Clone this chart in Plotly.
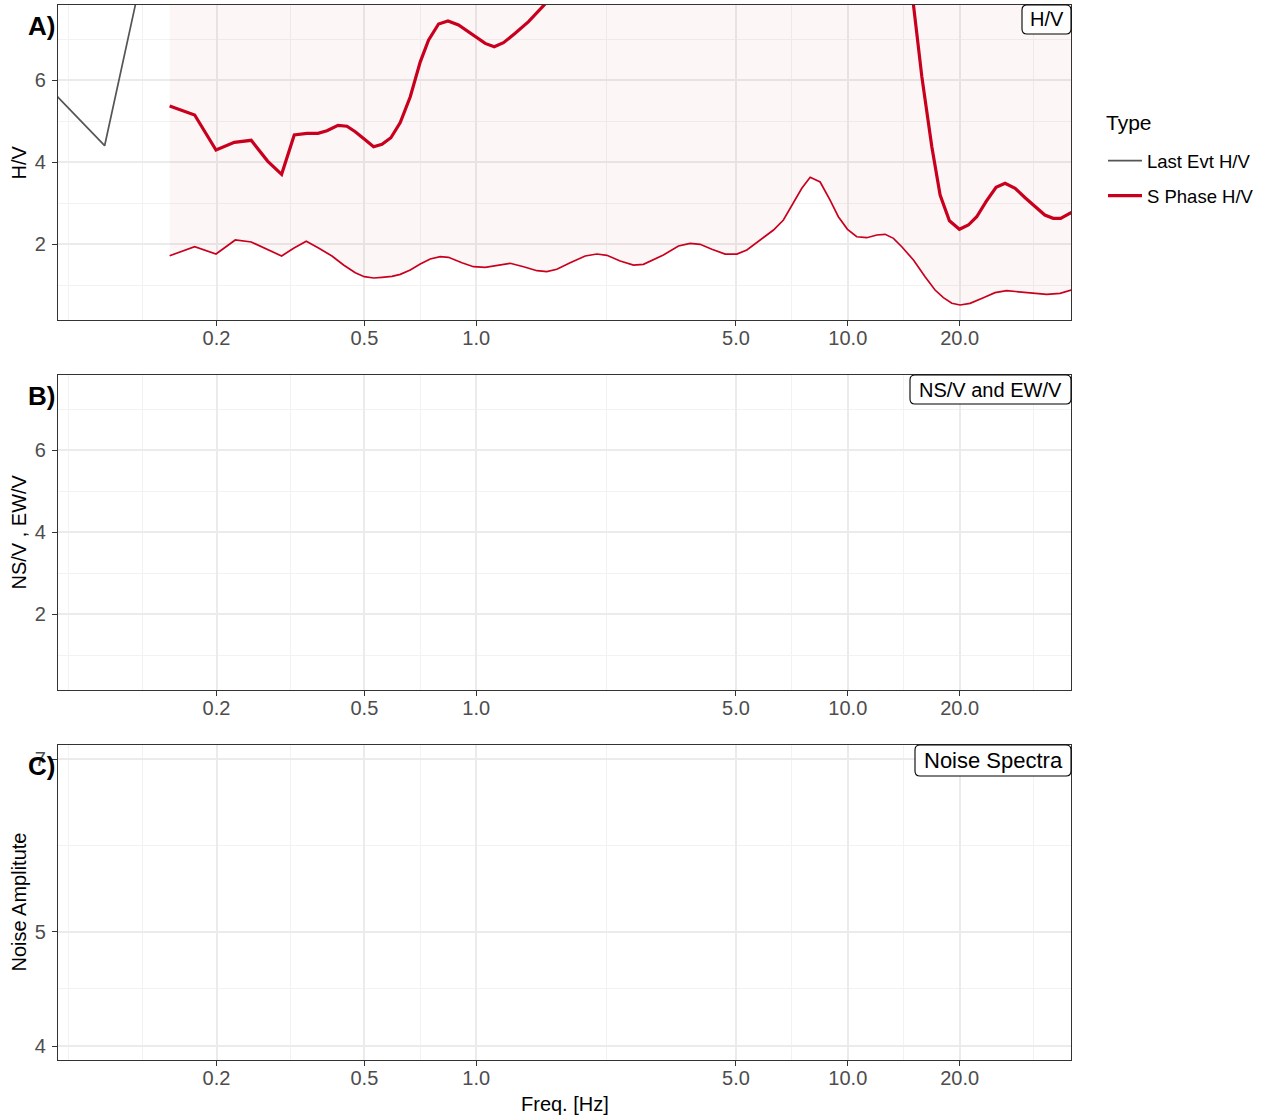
import math
import plotly.graph_objects as go

# ---------------- data ----------------
last_freq = [0.06, 0.1, 0.13]
last_hv = [6.49, 4.405, 9.14]

s_freq = [0.1496, 0.1747, 0.1994, 0.2234, 0.248, 0.2745, 0.2994, 0.3238, 0.3503, 0.375,
          0.3966, 0.4246, 0.4488, 0.4726, 0.4995, 0.5295, 0.5576, 0.5893, 0.6245, 0.6645,
          0.707, 0.744, 0.7918, 0.8394, 0.8961, 0.9636, 1.057, 1.118, 1.184, 1.273,
          1.383, 1.524, 1.7, 2.0, 3.0, 5.0, 8.0, 11.0, 13.0, 14.6,
          15.02, 15.82, 16.83, 17.72, 18.77, 19.97, 21.11, 22.23, 23.55, 25.06,
          26.5, 28.2, 30.0, 31.9, 33.9, 35.7, 37.4, 40.0]
s_hv = [5.373, 5.154, 4.30, 4.488, 4.537, 4.03, 3.707, 4.666, 4.707, 4.707,
        4.77, 4.90, 4.88, 4.746, 4.568, 4.38, 4.44, 4.60, 4.97, 5.60,
        6.45, 6.98, 7.373, 7.446, 7.349, 7.146, 6.90, 6.82, 6.917, 7.146,
        7.43, 7.84, 8.3, 9.0, 10.5, 12.0, 13.0, 12.0, 10.8, 8.8,
        7.84, 6.09, 4.38, 3.20, 2.576, 2.366, 2.47, 2.673, 3.04, 3.39,
        3.488, 3.366, 3.137, 2.917, 2.715, 2.634, 2.634, 2.78]

band_freq = [0.1496, 0.1747, 0.1994, 0.2247, 0.248, 0.2735, 0.2994, 0.3225, 0.3488, 0.3763,
             0.409, 0.4395, 0.4726, 0.4995, 0.5295, 0.5576, 0.5932, 0.6245, 0.6645, 0.707,
             0.752, 0.80, 0.842, 0.915, 0.983, 1.057, 1.137, 1.234, 1.341, 1.457,
             1.549, 1.648, 1.79, 1.965, 2.112, 2.247, 2.44, 2.65, 2.818, 2.999,
             3.19, 3.502, 3.765, 4.005, 4.306, 4.677, 5.028, 5.35, 5.81, 6.31,
             6.71, 7.07, 7.52, 7.92, 8.425, 8.96, 9.43, 9.98, 10.57, 11.25,
             11.97, 12.6, 13.27, 13.97, 15.02, 16.14, 17.17, 18.08, 19.05, 20.05,
             21.33, 23.17, 24.9, 26.77, 29.08, 31.57, 34.3, 37.25, 40.0]
band_lower = [1.722, 1.94, 1.763, 2.105, 2.056, 1.878, 1.715, 1.902, 2.073, 1.91,
              1.715, 1.495, 1.307, 1.21, 1.178, 1.195, 1.22, 1.268, 1.373, 1.52,
              1.641, 1.698, 1.683, 1.551, 1.454, 1.439, 1.488, 1.537, 1.454, 1.356,
              1.332, 1.39, 1.551, 1.715, 1.763, 1.732, 1.593, 1.495, 1.512, 1.617,
              1.739, 1.959, 2.024, 2.0, 1.878, 1.763, 1.763, 1.861, 2.105, 2.349,
              2.593, 2.959, 3.366, 3.634, 3.52, 3.08, 2.673, 2.366, 2.185, 2.161,
              2.227, 2.244, 2.146, 1.94, 1.617, 1.21, 0.885, 0.698, 0.561, 0.52,
              0.561, 0.698, 0.82, 0.868, 0.844, 0.805, 0.78, 0.805, 0.885]

upper_freq = [0.1496, 0.3, 0.6, 1.0, 2.0, 5.0, 10.0, 15.0, 20.0, 30.0, 40.0]
band_upper = [9.4, 9.0, 9.8, 13.5, 16.0, 18.5, 17.0, 14.0, 9.2, 8.6, 8.7]

x_ticks = [0.2, 0.5, 1, 5, 10, 20]
x_ticktext = ["0.2", "0.5", "1.0", "5.0", "10.0", "20.0"]
x_minor = [0.08, 0.1265, 0.3162, 0.7071, 2.236, 7.071, 14.14, 31.62]
hv_ticks = [2, 4, 6]
hv_minor = [1, 3, 5, 7]
noise_ticks = [4, 5, 7]
noise_minor = [4.472, 5.916]

panel_titles = ["H/V", "NS/V and EW/V", "Noise Spectra"]
panel_letters = ["A)", "B)", "C)"]
y_titles = ["H/V", "NS/V , EW/V", "Noise Amplitute"]

# ---------------- style / layout ----------------
W, H = 1269, 1118
ML, MR, MT, MB = 58, 1269 - 1071, 5, 1118 - 1060
PW, PH = W - ML - MR, H - MT - MB
tops = [5, 375, 745]
bots = [320, 690, 1060]
# label-box left edges (px) and heights for the top-right tags
tag_left = [1022, 910, 915]
tag_h = [29, 29, 31]
RED = "#C8001E"
GRAY = "#555555"
FONT = "Liberation Sans, Arial, Helvetica, sans-serif"
TICKC = "#4D4D4D"


def py(pix):
    return (H - MB - pix) / PH


def px(pix):
    return (pix - ML) / PW


fig = go.Figure()

# ribbon
fig.add_trace(go.Scatter(x=upper_freq + band_freq[::-1], y=band_upper + band_lower[::-1],
                         fill="toself", fillcolor="rgba(200,0,30,0.035)", mode="lines",
                         line=dict(width=0), showlegend=False, hoverinfo="skip",
                         xaxis="x", yaxis="y"))
fig.add_trace(go.Scatter(x=upper_freq, y=band_upper, mode="lines",
                         line=dict(color=RED, width=1.7), showlegend=False,
                         xaxis="x", yaxis="y"))
fig.add_trace(go.Scatter(x=band_freq, y=band_lower, mode="lines",
                         line=dict(color=RED, width=1.7), showlegend=False,
                         xaxis="x", yaxis="y"))
fig.add_trace(go.Scatter(x=last_freq, y=last_hv, mode="lines", name="Last Evt H/V",
                         line=dict(color=GRAY, width=1.7), legendgroup="a",
                         xaxis="x", yaxis="y"))
fig.add_trace(go.Scatter(x=s_freq, y=s_hv, mode="lines", name="S Phase H/V",
                         line=dict(color=RED, width=3.2), legendgroup="b",
                         xaxis="x", yaxis="y"))
# empty panels B and C (no data), so that their axes are drawn
fig.add_trace(go.Scatter(x=[], y=[], mode="lines", showlegend=False, xaxis="x2", yaxis="y2"))
fig.add_trace(go.Scatter(x=[], y=[], mode="lines", showlegend=False, xaxis="x3", yaxis="y3"))

xr = [math.log10(0.0749), math.log10(39.87)]
yranges = [[0.154, 7.837], [0.153, 7.83], [math.log10(3.893), math.log10(7.196)]]

common_x = dict(type="log", range=xr, tickmode="array", tickvals=x_ticks, ticktext=x_ticktext,
                showgrid=True, gridcolor="#EBEBEB", gridwidth=1.5,
                minor=dict(tickmode="array", tickvals=x_minor, showgrid=True,
                           gridcolor="#F2F2F2", gridwidth=0.8, ticks=""),
                ticks="outside", ticklen=5, tickwidth=1.1, tickcolor="#333333",
                tickfont=dict(family=FONT, size=20, color=TICKC), ticklabelstandoff=-5,
                showline=True, linecolor="#333333", linewidth=1.3, mirror=True,
                zeroline=False, fixedrange=True)

layout = dict(width=W, height=H, margin=dict(l=ML, r=MR, t=MT, b=MB),
              paper_bgcolor="white", plot_bgcolor="white",
              font=dict(family=FONT, color="black"),
              showlegend=True,
              legend=dict(x=px(1103), y=py(142), xanchor="left", yanchor="top",
                          font=dict(size=18.5, family=FONT, color="black"),
                          tracegroupgap=8, itemwidth=34, bgcolor="rgba(0,0,0,0)"))

for i in range(3):
    suf = "" if i == 0 else str(i + 1)
    dom = [py(bots[i]), py(tops[i])]
    xa = dict(common_x)
    xa["domain"] = [0, 1]
    xa["anchor"] = "y" + suf
    layout["xaxis" + suf] = xa
    if i < 2:
        ya = dict(range=yranges[i], tickmode="array", tickvals=hv_ticks,
                  minor=dict(tickmode="array", tickvals=hv_minor, showgrid=True,
                             gridcolor="#F2F2F2", gridwidth=0.8, ticks=""))
    else:
        ya = dict(type="log", range=yranges[i], tickmode="array", tickvals=noise_ticks,
                  ticktext=[str(v) for v in noise_ticks],
                  minor=dict(tickmode="array", tickvals=noise_minor, showgrid=True,
                             gridcolor="#F2F2F2", gridwidth=0.8, ticks=""))
    ya.update(domain=dom, anchor="x" + suf, showgrid=True, gridcolor="#EBEBEB", gridwidth=1.5,
              ticks="outside", ticklen=5, tickwidth=1.1, tickcolor="#333333",
              tickfont=dict(family=FONT, size=20, color=TICKC), ticklabelstandoff=2,
              showline=True, linecolor="#333333", linewidth=1.3, mirror=True,
              zeroline=False, fixedrange=True)
    layout["yaxis" + suf] = ya

annotations = []
shapes = []
for i in range(3):
    # panel letter
    annotations.append(dict(xref="paper", yref="paper", x=px(26), y=py(tops[i] + 21),
                            xanchor="left", yanchor="middle", showarrow=False,
                            text="<b>" + panel_letters[i] + "</b>",
                            font=dict(family=FONT, size=26, color="black")))
    # rounded tag box (top-right of each panel)
    x0, x1 = px(tag_left[i]), 1.0
    y1, y0 = py(tops[i]), py(tops[i] + tag_h[i])
    rx, ry = 5 / PW, 5 / PH
    path = (f"M{x0 + rx},{y1} L{x1 - rx},{y1} Q{x1},{y1} {x1},{y1 - ry} "
            f"L{x1},{y0 + ry} Q{x1},{y0} {x1 - rx},{y0} L{x0 + rx},{y0} "
            f"Q{x0},{y0} {x0},{y0 + ry} L{x0},{y1 - ry} Q{x0},{y1} {x0 + rx},{y1} Z")
    shapes.append(dict(type="path", xref="paper", yref="paper", path=path,
                       fillcolor="white", line=dict(color="black", width=1.1), layer="above"))
    annotations.append(dict(xref="paper", yref="paper", x=(x0 + x1) / 2, y=(y0 + y1) / 2,
                            xanchor="center", yanchor="middle", showarrow=False,
                            text=panel_titles[i],
                            font=dict(family=FONT, size=22 if i == 2 else 20, color="black")))
    # y title
    annotations.append(dict(xref="paper", yref="paper", x=px(18), y=py((tops[i] + bots[i]) / 2),
                            xanchor="center", yanchor="middle", showarrow=False, textangle=-90,
                            text=y_titles[i], font=dict(family=FONT, size=20, color="black")))
annotations.append(dict(xref="paper", yref="paper", x=0.5, y=py(1104), xanchor="center",
                        yanchor="middle", showarrow=False, text="Freq. [Hz]",
                        font=dict(family=FONT, size=20, color="black")))
annotations.append(dict(xref="paper", yref="paper", x=px(1104), y=py(122), xanchor="left",
                        yanchor="middle", showarrow=False, text="Type",
                        font=dict(family=FONT, size=21, color="black")))
layout["annotations"] = annotations
layout["shapes"] = shapes

fig.update_layout(**layout)
fig.write_html("out.html", config={"displayModeBar": False},
               post_script="document.body.style.margin='0px';document.body.style.padding='0px';")
